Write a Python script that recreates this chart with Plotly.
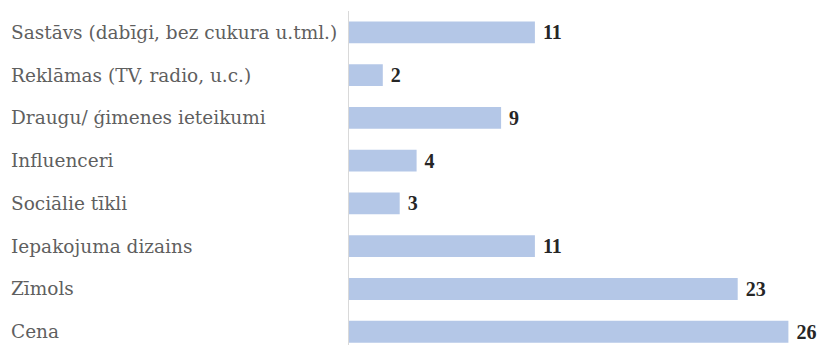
import plotly.graph_objects as go

categories = [
    "Sastāvs (dabīgi, bez cukura u.tml.)",
    "Reklāmas (TV, radio, u.c.)",
    "Draugu/ ģimenes ieteikumi",
    "Influenceri",
    "Sociālie tīkli",
    "Iepakojuma dizains",
    "Zīmols",
    "Cena",
]
values = [11, 2, 9, 4, 3, 11, 23, 26]

BAR_COLOR = "#B4C7E7"
LABEL_COLOR = "#5f5f5f"
LABEL_FONT = "DejaVu Serif"
VALUE_FONT = "Liberation Serif"

W, H = 819, 345
L, R, T, B = 349, 0, 11, 0
plot_w = W - L - R

fig = go.Figure(
    go.Bar(
        y=categories,
        x=values,
        orientation="h",
        width=0.51,
        marker=dict(color=BAR_COLOR, line=dict(width=0)),
        text=values,
        texttemplate=" <b>%{x}</b>",
        textposition="outside",
        constraintext="none",
        cliponaxis=False,
        textfont=dict(family=VALUE_FONT, size=20, color="#262626"),
        hoverinfo="skip",
    )
)

# left-aligned category labels
for cat in categories:
    fig.add_annotation(
        x=(9 - L) / plot_w,
        xref="paper",
        y=cat,
        yref="y",
        text=cat,
        showarrow=False,
        xanchor="left",
        yanchor="middle",
        font=dict(family=LABEL_FONT, size=18.5, color=LABEL_COLOR),
    )

fig.update_layout(
    width=W,
    height=H,
    margin=dict(l=L, r=R, t=T, b=B),
    paper_bgcolor="white",
    plot_bgcolor="white",
    showlegend=False,
    xaxis=dict(
        range=[0, plot_w / 16.9],
        visible=False,
        fixedrange=True,
    ),
    yaxis=dict(
        categoryorder="array",
        categoryarray=categories,
        range=[7.31, -0.5],
        showticklabels=False,
        ticks="",
        showgrid=False,
        zeroline=False,
        showline=True,
        linecolor="#D9D9D9",
        linewidth=1,
    ),
)

fig.write_html("out.html")
